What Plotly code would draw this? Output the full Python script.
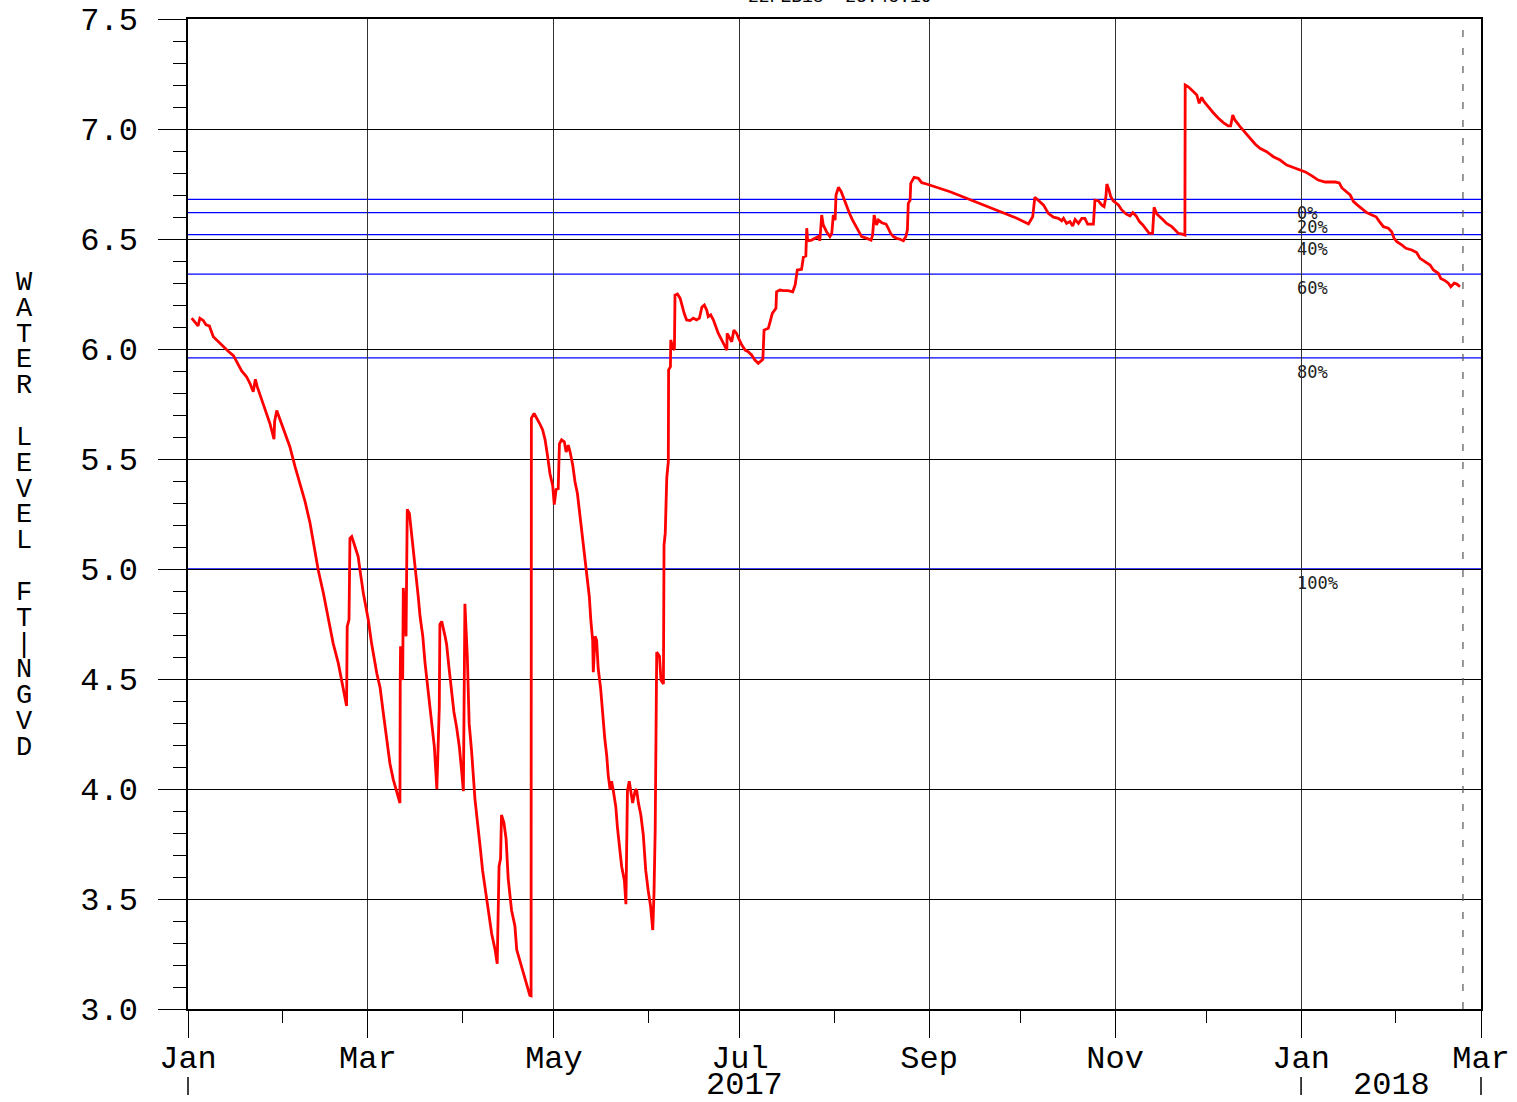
import pandas as pd
import plotly.graph_objects as go

START = pd.Timestamp("2017-01-01")
END = pd.Timestamp("2018-03-01")

# Stage readings, split by period: elapsed days since 1 Jan 2017 and water level (ft NGVD)
days_jan_mar = [1.2, 3.3, 3.9, 5.0, 5.9, 7.0, 8.3, 9.9, 12.1, 13.2, 14.9, 16.0, 17.6, 19.2, 20.3,
                21.4, 22.1, 22.7, 24.2, 25.8, 26.9, 28.2, 28.4, 29.1, 30.2, 31.8, 33.4, 35.1, 36.7,
                38.4, 40.0, 41.1, 42.7, 44.4, 46.0, 47.6, 49.3, 50.4, 51.5, 52.0, 52.2, 52.8, 53.1,
                53.7, 54.8, 55.8, 56.4, 57.5, 59.1, 60.2, 61.9, 63.0]
stage_jan_mar = [6.14, 6.105, 6.14, 6.13, 6.11, 6.105, 6.056, 6.033, 6.005, 5.99, 5.97, 5.94, 5.90,
                 5.874, 5.844, 5.806, 5.862, 5.829, 5.77, 5.708, 5.66, 5.59, 5.67, 5.72, 5.677, 5.617,
                 5.556, 5.465, 5.39, 5.306, 5.21, 5.117, 4.995, 4.89, 4.783, 4.662, 4.571, 4.495,
                 4.405, 4.377, 4.738, 4.77, 5.139, 5.147, 5.10, 5.056, 4.995, 4.89, 4.77, 4.662,
                 4.526, 4.46]

days_mar_apr = [64.0, 65.2, 66.2, 67.3, 68.4, 69.5, 69.6, 69.7, 70.4, 70.6, 71.5, 71.9, 72.6, 73.4,
                74.0, 74.8, 75.5, 76.1, 77.0, 77.7, 78.5, 79.4, 80.2, 80.8, 81.6, 81.8, 82.1, 82.4,
                82.6, 83.2, 84.3, 84.8, 85.6, 86.5, 87.2, 88.1, 89.0, 89.8, 90.3, 90.8, 91.6, 92.2,
                93.0, 94.1, 94.9, 95.8, 96.6, 97.7, 98.5, 99.6, 100.7, 101.4, 102.0, 102.5, 102.8,
                103.6, 104.3, 105.0, 106.1, 107.2, 107.8, 108.9, 110.0, 111.1, 112.1, 112.5]
stage_mar_apr = [4.35, 4.225, 4.117, 4.044, 3.99, 3.936, 4.51, 4.649, 4.495, 4.914, 4.694, 5.271,
                 5.253, 5.154, 5.054, 4.964, 4.874, 4.784, 4.694, 4.577, 4.477, 4.369, 4.279, 4.189,
                 3.999, 4.08, 4.207, 4.369, 4.748, 4.762, 4.694, 4.658, 4.549, 4.432, 4.35, 4.279,
                 4.189, 4.071, 3.99, 4.842, 4.60, 4.297, 4.171, 3.954, 3.864, 3.738, 3.630, 3.521,
                 3.431, 3.341, 3.269, 3.206, 3.648, 3.684, 3.882, 3.846, 3.774, 3.593, 3.449, 3.377,
                 3.269, 3.215, 3.161, 3.107, 3.062, 3.06]

days_apr_jun = [112.6, 113.5, 114.3, 115.4, 116.3, 117.1, 118.0, 118.7, 119.6, 120.1, 120.7, 121.4,
                121.8, 122.5, 123.4, 124.0, 124.7, 125.3, 126.2, 126.9, 127.7, 128.3, 129.1, 129.6,
                130.2, 130.9, 131.6, 132.1, 132.7, 132.9, 133.5, 134.0, 134.5, 135.3, 136.0, 136.7,
                137.3, 137.8, 138.4, 138.9, 139.5, 140.3, 140.8, 141.4, 142.2, 143.1, 143.6, 144.1,
                144.7, 145.2, 145.8, 146.6, 147.1, 147.7, 148.5, 149.3, 150.1, 150.9, 151.7, 152.4,
                152.8, 153.2, 153.7, 154.6, 155.1, 155.9, 156.1, 156.5, 157.0, 157.5]
stage_apr_jun = [5.686, 5.707, 5.689, 5.659, 5.632, 5.587, 5.505, 5.433, 5.379, 5.293, 5.361, 5.365,
                 5.569, 5.587, 5.578, 5.532, 5.563, 5.532, 5.469, 5.397, 5.343, 5.271, 5.199, 5.136,
                 5.055, 4.982, 4.874, 4.766, 4.676, 4.531, 4.694, 4.676, 4.549, 4.459, 4.333, 4.225,
                 4.153, 4.062, 3.999, 4.035, 3.99, 3.918, 3.828, 3.738, 3.648, 3.584, 3.476, 3.99,
                 4.035, 3.99, 3.936, 3.99, 3.999, 3.936, 3.882, 3.792, 3.630, 3.539, 3.467, 3.359,
                 3.521, 3.810, 4.622, 4.604, 4.495, 4.477, 5.109, 5.163, 5.415, 5.487]

days_jun_sep = [157.6, 158.2, 158.3, 158.9, 159.5, 159.7, 160.5, 161.4, 162.1, 162.7, 163.5, 164.6,
                165.7, 166.8, 167.7, 168.5, 169.3, 170.1, 170.6, 171.4, 172.3, 173.2, 173.9, 175.0,
                176.1, 176.7, 176.8, 177.5, 178.3, 179.0, 179.9, 180.8, 181.6, 182.7, 183.7, 184.8,
                185.9, 187.0, 188.5, 188.9, 190.3, 190.9, 191.6, 192.8, 193.0, 194.1, 195.2, 196.8,
                198.3, 199.1, 199.8, 201.2, 201.8, 202.6, 202.9, 203.2, 204.5, 205.6, 206.7, 207.2,
                207.8, 208.3, 209.4, 210.5, 211.1, 211.6, 212.2, 212.5, 213.3, 214.2, 215.2, 216.0,
                216.9, 217.8, 219.0, 220.1, 220.9, 222.6, 224.0, 224.5, 225.0, 225.8, 226.4, 227.5,
                228.9, 229.6, 230.4, 231.3, 232.4, 233.5, 234.6, 235.4, 235.9, 236.2, 236.8, 237.0,
                238.1, 239.5, 240.6]
stage_jun_sep = [5.905, 5.92, 6.041, 6.01, 5.995, 6.245, 6.25, 6.23, 6.192, 6.162, 6.132, 6.129,
                 6.14, 6.132, 6.14, 6.19, 6.20, 6.177, 6.147, 6.155, 6.132, 6.094, 6.071, 6.041,
                 6.01, 5.995, 6.071, 6.056, 6.033, 6.086, 6.071, 6.041, 6.018, 5.995, 5.988, 5.973,
                 5.95, 5.935, 5.953, 6.086, 6.094, 6.124, 6.162, 6.185, 6.26, 6.268, 6.265, 6.265,
                 6.26, 6.291, 6.359, 6.362, 6.417, 6.423, 6.549, 6.492, 6.495, 6.503, 6.511, 6.492,
                 6.609, 6.564, 6.533, 6.511, 6.526, 6.609, 6.586, 6.70, 6.735, 6.715, 6.677, 6.647,
                 6.617, 6.589, 6.556, 6.529, 6.511, 6.503, 6.495, 6.518, 6.609, 6.564, 6.586, 6.574,
                 6.568, 6.549, 6.526, 6.511, 6.503, 6.499, 6.492, 6.511, 6.541, 6.662, 6.677, 6.753,
                 6.78, 6.776, 6.756]

days_sep_feb = [242.2, 245.5, 249.9, 255.3, 260.8, 266.3, 271.8, 275.6, 277.0, 277.7, 278.8, 280.5,
                282.1, 283.8, 285.4, 286.5, 287.1, 288.1, 289.2, 290.1, 290.9, 292.0, 293.1, 294.1,
                295.0, 296.9, 297.4, 298.5, 299.6, 300.4, 301.0, 301.3, 302.0, 302.6, 303.4, 305.1,
                306.2, 307.6, 308.9, 309.8, 310.9, 312.0, 313.1, 314.2, 315.2, 316.3, 316.8, 317.7,
                318.8, 319.8, 320.9, 322.6, 323.7, 324.7, 325.8, 326.9, 327.0, 328.0, 329.4, 330.8,
                331.6, 332.4, 333.2, 334.6, 336.2, 337.9, 339.5, 341.1, 341.9, 342.6, 343.3, 345.0,
                346.6, 348.3, 349.9, 351.5, 353.7, 355.9, 358.1, 360.3, 362.5, 364.1, 366.4, 368.7,
                370.6, 372.9, 376.2, 377.5, 378.4, 381.1, 382.2, 383.4, 384.9, 386.5, 388.2, 389.6,
                390.7, 392.0, 393.6, 394.7, 395.5, 396.4, 398.0, 399.4, 401.3, 402.9, 404.0, 405.6,
                407.3, 408.4, 410.0, 410.8, 412.2, 413.3, 414.1, 415.2, 416.1, 417.1]
stage_sep_feb = [6.75, 6.735, 6.715, 6.685, 6.655, 6.624, 6.594, 6.568, 6.601, 6.69, 6.677, 6.655,
                 6.617, 6.599, 6.594, 6.583, 6.594, 6.571, 6.579, 6.559, 6.589, 6.571, 6.594, 6.594,
                 6.568, 6.568, 6.677, 6.674, 6.655, 6.647, 6.692, 6.75, 6.723, 6.692, 6.674, 6.655,
                 6.632, 6.614, 6.605, 6.62, 6.605, 6.579, 6.564, 6.544, 6.526, 6.526, 6.644, 6.614,
                 6.601, 6.586, 6.571, 6.556, 6.541, 6.526, 6.523, 6.518, 7.20, 7.192, 7.174, 7.155,
                 7.117, 7.144, 7.124, 7.099, 7.074, 7.049, 7.029, 7.014, 7.014, 7.064, 7.041, 7.011,
                 6.984, 6.958, 6.932, 6.912, 6.897, 6.874, 6.859, 6.836, 6.826, 6.817, 6.805, 6.786,
                 6.768, 6.759, 6.759, 6.755, 6.732, 6.70, 6.67, 6.655, 6.64, 6.62, 6.609, 6.601,
                 6.579, 6.556, 6.549, 6.533, 6.503, 6.488, 6.473, 6.458, 6.45, 6.438, 6.412, 6.397,
                 6.382, 6.359, 6.344, 6.321, 6.311, 6.299, 6.283, 6.299, 6.295, 6.283]

# Reference stages with their percent labels
threshold_levels = [6.68, 6.62, 6.52, 6.34, 5.96, 5.00]
threshold_labels = ["0%", "20%", "40%", "60%", "80%", "100%"]

# Time axis ticks
major_months = ["2017-01-01", "2017-03-01", "2017-05-01", "2017-07-01", "2017-09-01",
                "2017-11-01", "2018-01-01", "2018-03-01"]
major_month_labels = ["Jan", "Mar", "May", "Jul", "Sep", "Nov", "Jan", "Mar"]
minor_months = ["2017-02-01", "2017-04-01", "2017-06-01", "2017-08-01", "2017-10-01",
                "2017-12-01", "2018-02-01"]
year_labels = ["2017", "2018"]
year_bounds = ["2017-01-01", "2018-01-01", "2018-03-01"]

# Stage axis ticks
y_ticks = [3.0, 3.5, 4.0, 4.5, 5.0, 5.5, 6.0, 6.5, 7.0, 7.5]
y_tick_labels = ["3.0", "3.5", "4.0", "4.5", "5.0", "5.5", "6.0", "6.5", "7.0", "7.5"]

axis_title = "WATER LEVEL FT|NGVD"
run_stamp = "22FEB18  23:45:10"
run_time = "2018-02-23 02:00"

MONO = "Liberation Mono"
W, H = 1517, 1102
L, R, T, B = 188, 36, 19, 93
PW, PH = W - L - R, H - T - B


def px_to_paper_x(px):
    return (px - L) / PW


def px_to_paper_y(py):
    return (H - B - py) / PH


days = days_jan_mar + days_mar_apr + days_apr_jun + days_jun_sep + days_sep_feb
stage = stage_jan_mar + stage_mar_apr + stage_apr_jun + stage_jun_sep + stage_sep_feb
times = START + pd.to_timedelta(days, unit="D")

fig = go.Figure()
fig.add_trace(go.Scatter(
    x=times, y=stage, mode="lines",
    line=dict(color="#ff0000", width=2.8),
    hoverinfo="skip", showlegend=False,
))

shapes = []
for lvl in threshold_levels:
    shapes.append(dict(type="line", xref="paper", yref="y", x0=0, x1=1, y0=lvl, y1=lvl,
                       line=dict(color="#0000ff", width=1.3), layer="between"))
shapes.append(dict(type="line", xref="x", yref="paper", x0=run_time, x1=run_time, y0=0, y1=1,
                   line=dict(color="#555555", width=1.2, dash="7px,11px"), layer="above"))

# Year boundary markers under the month labels
span_days = (END - START).days
for b in year_bounds:
    fx = (pd.Timestamp(b) - START).days / span_days
    shapes.append(dict(type="line", xref="paper", yref="paper", x0=fx, x1=fx,
                       y0=px_to_paper_y(1077), y1=px_to_paper_y(1095),
                       line=dict(color="#000000", width=1.5)))

annotations = []
for lvl, lab in zip(threshold_levels, threshold_labels):
    annotations.append(dict(text=lab, xref="paper", yref="y", x=px_to_paper_x(1295), y=lvl,
                            xanchor="left", yanchor="middle", yshift=-14, showarrow=False,
                            font=dict(family="DejaVu Sans Mono", size=17, color="#222222")))

for i, lab in enumerate(year_labels):
    a, b = pd.Timestamp(year_bounds[i]), pd.Timestamp(year_bounds[i + 1])
    mid = a + (b - a) / 2
    annotations.append(dict(text=lab, xref="x", yref="paper", x=mid, y=px_to_paper_y(1085),
                            xanchor="center", yanchor="middle", showarrow=False,
                            font=dict(family=MONO, size=32, color="#000000")))

# Stacked vertical axis title
for i, ch in enumerate(axis_title):
    if ch == " ":
        continue
    annotations.append(dict(text=ch, xref="paper", yref="paper", x=px_to_paper_x(24),
                            y=px_to_paper_y(283 + i * 25.83), xanchor="center", yanchor="middle",
                            showarrow=False, font=dict(family=MONO, size=27, color="#000000")))

annotations.append(dict(text=run_stamp, xref="paper", yref="paper", x=px_to_paper_x(840),
                        y=px_to_paper_y(-3), xanchor="center", yanchor="middle", showarrow=False,
                        font=dict(family=MONO, size=18, color="#000000")))

fig.update_xaxes(
    type="date", range=[START, END], automargin=False,
    tickmode="array", tickvals=major_months, ticktext=major_month_labels,
    ticks="outside", ticklen=27, tickwidth=1, tickcolor="#000000",
    tickfont=dict(family=MONO, size=32, color="#000000"),
    ticklabelstandoff=-8,
    showgrid=True, gridcolor="#333333", gridwidth=1,
    showline=True, linecolor="#000000", linewidth=1.5, mirror=True, zeroline=False,
    minor=dict(tickmode="array", tickvals=minor_months, ticks="outside", ticklen=12,
               tickcolor="#000000", showgrid=False),
)
fig.update_yaxes(
    range=[3.0, 7.5], automargin=False,
    tickmode="array", tickvals=y_ticks, ticktext=y_tick_labels,
    ticks="outside", ticklen=28, tickwidth=1, tickcolor="#000000",
    tickfont=dict(family=MONO, size=32, color="#000000"),
    ticklabelstandoff=14,
    showgrid=True, gridcolor="#000000", gridwidth=1,
    showline=True, linecolor="#000000", linewidth=1.5, mirror=True, zeroline=False,
    minor=dict(tick0=3.0, dtick=0.1, ticks="outside", ticklen=13, tickcolor="#000000",
               showgrid=False),
)

fig.update_layout(
    width=W, height=H,
    margin=dict(l=L, r=R, t=T, b=B),
    paper_bgcolor="#ffffff", plot_bgcolor="#ffffff",
    shapes=shapes, annotations=annotations,
    showlegend=False,
)

fig.write_html("out.html")
